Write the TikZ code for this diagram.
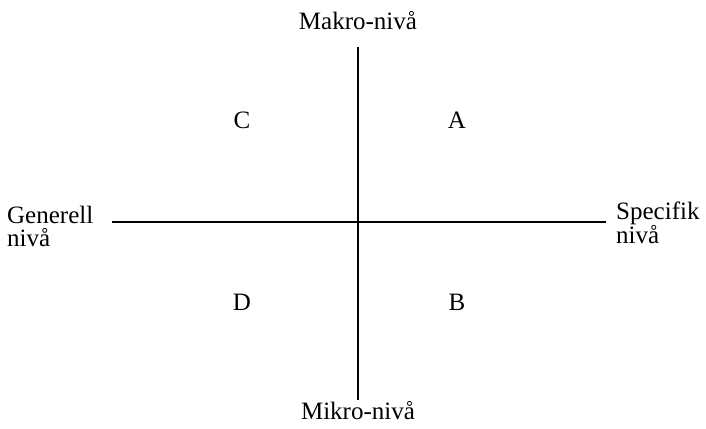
\documentclass[tikz,border=0pt]{standalone}
\usepackage{fontspec}
\setmainfont{Liberation Serif}
\usetikzlibrary{positioning}

\begin{document}
\begin{tikzpicture}[x=1pt,y=1pt, txt/.style={inner sep=0pt,font=\fontsize{25}{23}\selectfont}, side/.style={txt,align=left,anchor=west}, axis/.style={line width=1.6pt}]
\useasboundingbox (0,0) rectangle (706,428);
\coordinate (O) at (358,206);
\coordinate (top) at (358,381);
\coordinate (bot) at (358,28);
\coordinate (lft) at (112,206);
\coordinate (rgt) at (606,206);
\node[txt] (makro) at (358,407) {Makro-nivå};
\node[txt] (mikro) at (358,17) {Mikro-nivå};
\node[side] (gen) at (7,202) {Generell\\ nivå};
\node[side] (spec) at (616,205) {Specifik\\ nivå};
\node[txt] (C) at (242,308) {C};
\node[txt] (A) at (457,308) {A};
\node[txt] (D) at (242,126) {D};
\node[txt] (B) at (457,126) {B};
\draw[axis] (top) -- (bot);
\draw[axis] (lft) -- (rgt);
\end{tikzpicture}
\end{document}
